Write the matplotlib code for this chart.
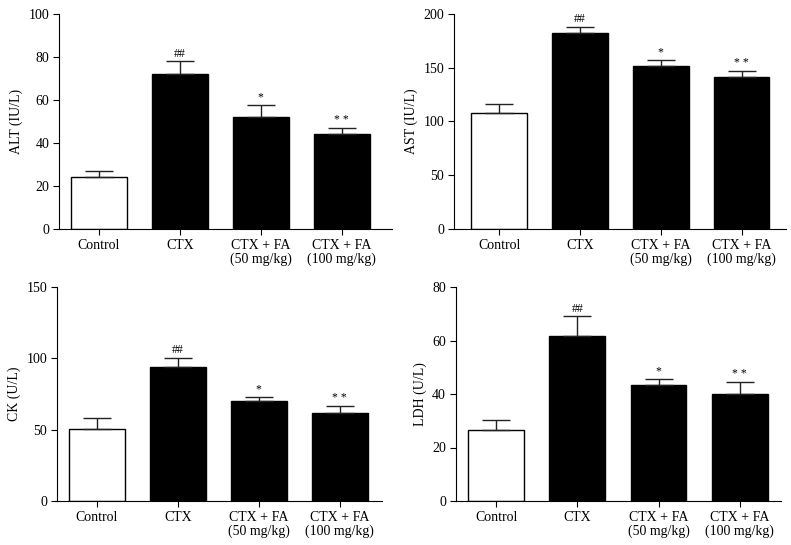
import matplotlib
matplotlib.use("Agg")
import matplotlib.pyplot as plt

plt.rcParams['font.family'] = ['Liberation Serif', 'DejaVu Serif']

categories = ["Control", "CTX", "CTX + FA\n(50 mg/kg)", "CTX + FA\n(100 mg/kg)"]
marks = ["", "##", "*", "* *"]

alt_mean = [24, 72, 52, 44]
alt_err = [3, 6, 5.5, 3]
ast_mean = [108, 182, 152, 141]
ast_err = [8, 6, 5, 6]
ck_mean = [50.5, 94, 70, 61.5]
ck_err = [8, 6.5, 3, 5]
ldh_mean = [26.7, 61.5, 43.3, 40]
ldh_err = [3.5, 7.5, 2.4, 4.6]

panels = [
    dict(mean=alt_mean, err=alt_err, ylabel="ALT (IU/L)", ymax=100, step=20,
         pos=[59/791, 1-229/545, (392-59)/791, (229-14)/545], xlim=(-0.49, 3.62)),
    dict(mean=ast_mean, err=ast_err, ylabel="AST (IU/L)", ymax=200, step=50,
         pos=[454/791, 1-229/545, (786-454)/791, (229-14)/545], xlim=(-0.56, 3.55)),
    dict(mean=ck_mean, err=ck_err, ylabel="CK (U/L)", ymax=150, step=50,
         pos=[57/791, 1-501/545, (382-57)/791, (501-287)/545], xlim=(-0.49, 3.52)),
    dict(mean=ldh_mean, err=ldh_err, ylabel="LDH (U/L)", ymax=80, step=20,
         pos=[455.7/791, 1-501/545, (781-455.7)/791, (501-287)/545], xlim=(-0.50, 3.51)),
]

fig = plt.figure(figsize=(7.91, 5.45), dpi=100)
fs = 10
for p in panels:
    ax = fig.add_axes(p["pos"])
    x = list(range(len(categories)))
    colors = ["white", "black", "black", "black"]
    ax.bar(x, p["mean"], width=0.69, color=colors, edgecolor="black", linewidth=1.0, zorder=2)
    lower = [0] * len(x)
    ax.errorbar(x, p["mean"], yerr=[lower, p["err"]], fmt="none", ecolor="#222222",
                elinewidth=1.0, capsize=10, capthick=1.0, zorder=3)
    for xi, m, e, t in zip(x, p["mean"], p["err"], marks):
        if t:
            ax.text(xi, m + e + p["ymax"] * 0.008, t, ha="center", va="bottom", fontsize=8.5)
    ax.set_xlim(*p["xlim"])
    ax.set_ylim(0, p["ymax"])
    ax.set_yticks(list(range(0, p["ymax"] + 1, p["step"])))
    ax.set_xticks(x)
    ax.set_xticklabels(categories, fontsize=fs, linespacing=1.0)
    ax.tick_params(axis="y", labelsize=fs, direction="out", length=4, width=0.8, pad=3)
    ax.tick_params(axis="x", direction="out", length=4, width=0.8)
    ax.set_ylabel(p["ylabel"], fontsize=fs)
    for s in ["top", "right"]:
        ax.spines[s].set_visible(False)
    for s in ["left", "bottom"]:
        ax.spines[s].set_linewidth(0.8)

fig.savefig("out.png", dpi=100)
